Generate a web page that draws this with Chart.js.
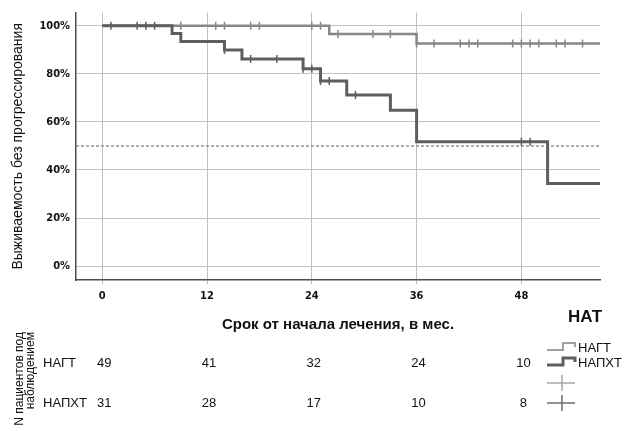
<!DOCTYPE html>
<html lang="ru">
<head>
<meta charset="UTF-8">
<title>Выживаемость без прогрессирования</title>
<script src="https://cdn.jsdelivr.net/npm/chart.js@4.4.1/dist/chart.umd.min.js"></script>
<style>
  body { margin: 0; background: #fff; }
  canvas { display: block; }
</style>
</head>
<body>
<canvas id="km" width="626" height="431"></canvas>

<script>
  // Kaplan-Meier steps (months, % without progression)
  const groupNames = ['НАГТ', 'НАПХТ'];

  const nagtTimes = [0, 26, 36, 57];
  const nagtSurv  = [100, 96.6, 92.6, 92.6];
  const nagtCensored = [9, 13, 14, 17, 18, 24, 25, 27, 31, 33, 36, 38, 41, 42, 43, 47, 48, 49, 50, 52, 53, 55];

  const napxtTimes = [0, 8, 9, 14, 16, 23, 25, 28, 33, 36, 51, 57];
  const napxtSurv  = [100, 96.8, 93.5, 89.9, 86.2, 82.1, 77.0, 71.2, 64.9, 51.7, 34.4, 34.4];
  const napxtCensored = [1, 4, 5, 6, 14, 17, 20, 23, 24, 25, 26, 29, 48, 49];

  const xTicks = [0, 12, 24, 36, 48];
  const yTicks = [0, 20, 40, 60, 80, 100];

  // patients at risk
  const riskTimes   = [0, 12, 24, 36, 48];
  const nagtAtRisk  = [49, 41, 32, 24, 10];
  const napxtAtRisk = [31, 28, 17, 10, 8];

  const lightGrey = '#878787';
  const darkGrey = '#5e5e5e';
  const condensed = "'DejaVu Sans Condensed', 'DejaVu Sans', sans-serif";
  const sans = "'Liberation Sans', Arial, sans-serif";

  function curve(times, surv) {
    return times.map((t, i) => ({ x: t, y: surv[i] }));
  }
  // value of the step curve at a censoring time
  function marks(times, surv, cens) {
    return cens.map(t => {
      let v = surv[0];
      times.forEach((tt, i) => { if (t >= tt) v = surv[i]; });
      return { x: t, y: v };
    });
  }

  const extras = {
    id: 'extras',
    afterDraw(chart) {
      const ctx = chart.ctx;
      const xs = chart.scales.x;
      ctx.save();
      ctx.fillStyle = '#111';
      ctx.textBaseline = 'middle';

      // risk table
      ctx.font = '13px ' + sans;
      ctx.textAlign = 'left';
      ctx.fillText(groupNames[0], 43, 363);
      ctx.fillText(groupNames[1], 43, 403);
      ctx.textAlign = 'center';
      riskTimes.forEach((t, i) => {
        const px = xs.getPixelForValue(t) + 2;
        ctx.fillText(String(nagtAtRisk[i]), px, 363);
        ctx.fillText(String(napxtAtRisk[i]), px, 403);
      });

      // rotated caption of the table
      ctx.save();
      ctx.translate(20, 332);
      ctx.rotate(-Math.PI / 2);
      ctx.font = '12px ' + sans;
      ctx.textAlign = 'right';
      ctx.fillText('N пациентов под', 0, 0);
      ctx.fillText('наблюдением', 0, 11);
      ctx.restore();

      // legend
      ctx.font = 'bold 17px ' + sans;
      ctx.textAlign = 'center';
      ctx.fillText('НАТ', 585, 317);

      ctx.font = '13px ' + sans;
      ctx.textAlign = 'left';
      ctx.fillText(groupNames[0], 578, 348);
      ctx.fillText(groupNames[1], 578, 363);

      const step = (y, color, w) => {
        ctx.strokeStyle = color;
        ctx.lineWidth = w;
        ctx.beginPath();
        ctx.moveTo(547, y + 4);
        ctx.lineTo(563, y + 4);
        ctx.lineTo(563, y - 3);
        ctx.lineTo(575, y - 3);
        ctx.lineTo(575, y + 1);
        ctx.stroke();
      };
      step(346, '#a0a0a0', 2);
      step(361, darkGrey, 3);

      const cross = (y, color) => {
        ctx.strokeStyle = color;
        ctx.lineWidth = 1.5;
        ctx.beginPath();
        ctx.moveTo(547, y); ctx.lineTo(575, y);
        ctx.moveTo(562, y - 8); ctx.lineTo(562, y + 8);
        ctx.stroke();
      };
      cross(383, '#a8a8a8');
      cross(403, '#6e6e6e');
      ctx.restore();
    }
  };

  new Chart(document.getElementById('km'), {
    type: 'line',
    data: {
      datasets: [
        {
          label: groupNames[1] + ' censored',
          data: marks(napxtTimes, napxtSurv, napxtCensored),
          showLine: false,
          pointStyle: 'line',
          rotation: 90,
          pointRadius: 4,
          pointBorderWidth: 1.5,
          pointBorderColor: darkGrey
        },
        {
          label: groupNames[1],
          data: curve(napxtTimes, napxtSurv),
          stepped: 'before',
          borderColor: darkGrey,
          borderWidth: 3,
          pointRadius: 0
        },
        {
          label: groupNames[0] + ' censored',
          data: marks(nagtTimes, nagtSurv, nagtCensored),
          showLine: false,
          pointStyle: 'line',
          rotation: 90,
          pointRadius: 4,
          pointBorderWidth: 1.5,
          pointBorderColor: lightGrey
        },
        {
          label: groupNames[0],
          data: curve(nagtTimes, nagtSurv),
          stepped: 'before',
          borderColor: lightGrey,
          borderWidth: 2.5,
          pointRadius: 0
        },
        {
          label: 'median',
          data: [{ x: -3, y: 50 }, { x: 57, y: 50 }],
          borderColor: '#939393',
          borderWidth: 1.5,
          borderDash: [3, 2],
          pointRadius: 0
        }
      ]
    },
    options: {
      responsive: false,
      animation: false,
      devicePixelRatio: 1,
      layout: { padding: { top: 11, right: 26, left: 0, bottom: 0 } },
      plugins: {
        legend: { display: false },
        tooltip: { enabled: false }
      },
      scales: {
        x: {
          type: 'linear',
          min: -3,
          max: 57,
          afterBuildTicks: s => { s.ticks = xTicks.map(v => ({ value: v })); },
          afterFit: s => { s.height = 151; },
          grid: { color: '#c0c0c0', lineWidth: 1, tickLength: 4 },
          border: { color: '#4e4e4e', width: 1.5 },
          ticks: { color: '#111', font: { family: condensed, size: 11, weight: 'bold' }, padding: 6, maxRotation: 0 },
          title: {
            display: true,
            text: 'Срок от начала лечения, в мес.',
            color: '#111',
            font: { family: sans, size: 15, weight: 'bold' },
            padding: { top: 97, bottom: 97 }
          }
        },
        y: {
          min: -5.8,
          max: 105.5,
          afterBuildTicks: s => { s.ticks = yTicks.map(v => ({ value: v })); },
          afterFit: s => { s.width = 76; },
          grid: { color: '#c0c0c0', lineWidth: 1, drawTicks: false },
          border: { color: '#4e4e4e', width: 1.5 },
          ticks: {
            color: '#111',
            font: { family: condensed, size: 11, weight: 'bold' },
            padding: 6,
            callback: v => v + '%'
          },
          title: {
            display: true,
            text: 'Выживаемость без прогрессирования',
            color: '#111',
            font: { family: sans, size: 14 },
            padding: { top: 10, bottom: 10 }
          }
        }
      }
    },
    plugins: [extras]
  });
</script>
</body>
</html>
